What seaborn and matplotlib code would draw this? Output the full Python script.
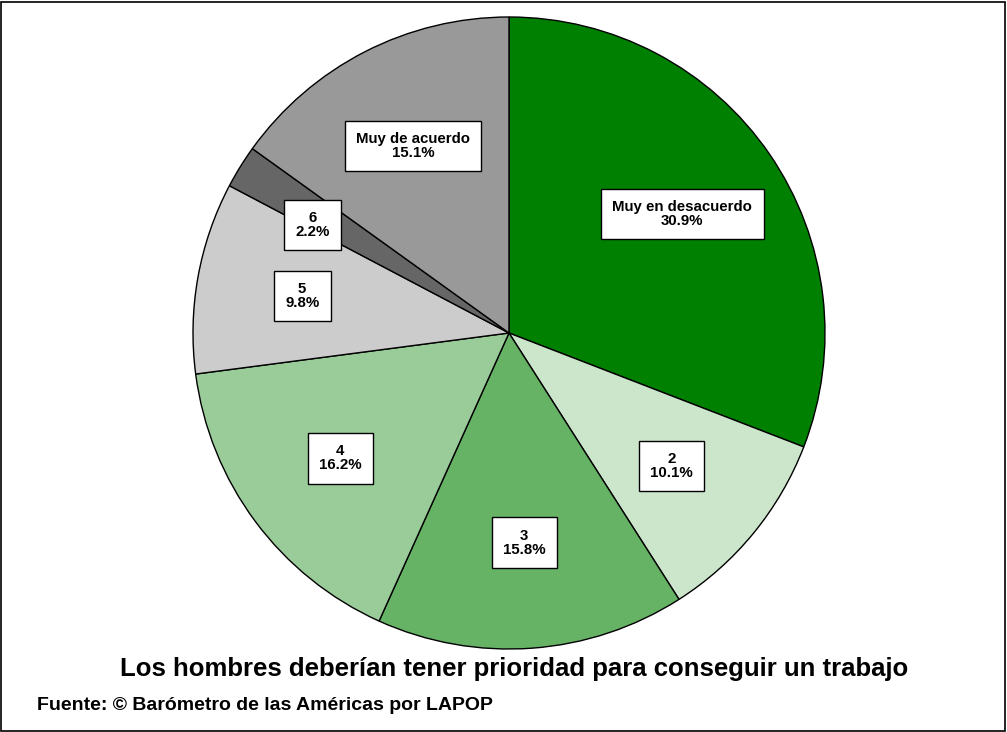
"""
Pie chart: Los hombres deberían tener prioridad para conseguir un trabajo
"""
import matplotlib
matplotlib.use("Agg")
import numpy as np
import matplotlib.pyplot as plt
from matplotlib.patches import Rectangle
import seaborn as sns

LABELS = ["Muy en desacuerdo", "2", "3", "4", "5", "6", "Muy de acuerdo"]
PCTS = [30.9, 10.1, 15.8, 16.2, 9.8, 2.2, 15.1]
COLORS = ["#008000", "#cce6cc", "#66b366", "#99cc99", "#cccccc", "#666666", "#999999"]

TITLE = "Los hombres deberían tener prioridad para conseguir un trabajo"
SOURCE = "Fuente: © Barómetro de las Américas por LAPOP"

sns.set_theme(style="white")
plt.rcParams["font.family"] = ["Liberation Sans", "DejaVu Sans"]
plt.rcParams["text.color"] = "black"

W, H = 1007, 732
fig = plt.figure(figsize=(W / 100, H / 100), dpi=100)
fig.patch.set_facecolor("white")

# pie centre (509, 333) px, radius 316 px
cx, cy, r = 509, 333, 316
ax = fig.add_axes([(cx - r) / W, (H - cy - r) / H, 2 * r / W, 2 * r / H])
wedges, _ = ax.pie(PCTS, colors=COLORS, startangle=90, counterclock=False,
                   wedgeprops=dict(edgecolor="black", linewidth=1.0))
ax.set_xlim(-1, 1)
ax.set_ylim(-1, 1)
ax.set_aspect("equal")
ax.axis("off")

# labels inside boxes along the mid angle
total = sum(PCTS)
cum = 0
for lab, p in zip(LABELS, PCTS):
    mid = cum + p / 2
    cum += p
    deg = 90 - 360 * mid / total
    rr = 0.665
    if lab == "6":
        deg += 3
        rr = 0.71
    ang = np.deg2rad(deg)
    x, y = rr * np.cos(ang), rr * np.sin(ang)
    ax.text(x, y, f"{lab}\n{p:.1f}%", ha="center", va="center",
            fontsize=10.8, fontweight="bold", linespacing=1.0, color="black",
            bbox=dict(boxstyle="square,pad=0.75", facecolor="white",
                      edgecolor="black", linewidth=1.0))

fig.text(514 / W, 1 - 669 / H, TITLE, ha="center", va="center",
         fontsize=18.5, fontweight="bold", color="black")
fig.text(37 / W, 1 - 706 / H, SOURCE, ha="left", va="center",
         fontsize=14, fontweight="bold", color="black")

# outer frame
fig.patches.append(Rectangle((1 / W, 1 / H), (W - 3) / W, (H - 3) / H,
                             transform=fig.transFigure, fill=False,
                             edgecolor="black", linewidth=1.2))

fig.savefig("out.png", dpi=100)
